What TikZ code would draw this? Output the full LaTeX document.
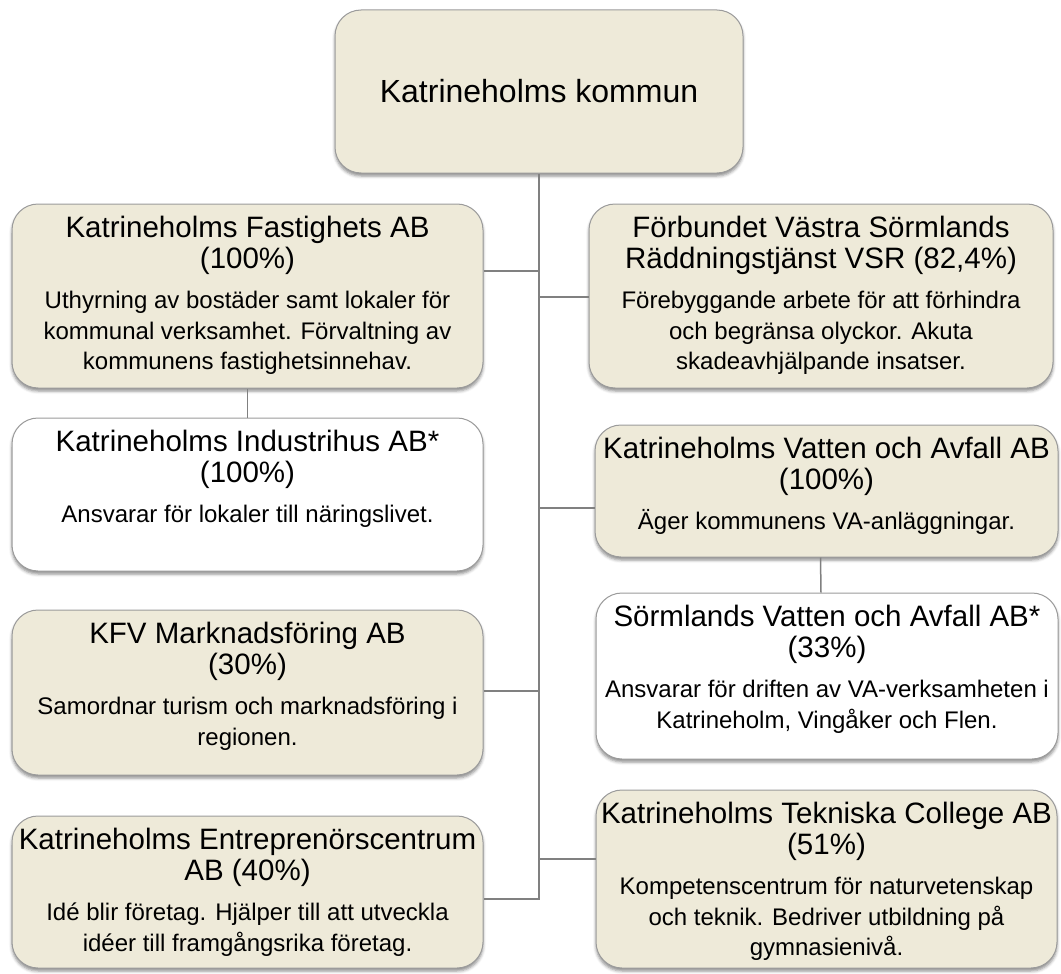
\documentclass[tikz,border=0pt]{standalone}
\usepackage{fontspec}
\setmainfont{Liberation Sans}
\usepackage{tikz}
\usetikzlibrary{shadows.blur}
\definecolor{sand}{HTML}{EEEAD9}
\definecolor{rim}{HTML}{9B9B9B}
\definecolor{wire}{HTML}{808080}
\newcommand{\ttl}{\fontsize{29.5}{31}\selectfont}
\newcommand{\bdy}{\fontsize{24}{30.5}\selectfont}
\newcommand{\topline}{\rule{0pt}{27pt}}

\begin{document}
\begin{tikzpicture}[x=1pt,y=-1pt]
\tikzstyle{unit}=[rectangle,rounded corners=26pt,draw=rim,line width=1pt,fill=sand,inner sep=0pt,
  blur shadow={shadow xshift=0pt,shadow yshift=-3pt,shadow blur radius=3pt,shadow opacity=45}]
\tikzstyle{blank}=[unit,fill=white]
\tikzstyle{info}=[anchor=north,align=center,inner xsep=0pt,inner ysep=7pt,font=\bdy]
\tikzstyle{link}=[draw=wire,line width=1.5pt]
\useasboundingbox (0,0) rectangle (1061,974);

\node[unit,minimum width=408pt,minimum height=163pt,font=\fontsize{32}{36}\selectfont] (kommun) at (539,91.5) {Katrineholms kommun};

\node[unit,minimum width=471pt,minimum height=184pt] (fast) at (247.5,296) {};
\node[info] (fast-t) at (fast.north) {\ttl\topline Katrineholms Fastighets AB\\\ttl (100\%)\\[10pt]Uthyrning av bostäder samt lokaler för\\kommunal verksamhet. Förvaltning av\\kommunens fastighetsinnehav.};

\node[blank,minimum width=471pt,minimum height=153pt] (indu) at (247.5,494.5) {};
\node[info] (indu-t) at (indu.north) {\ttl\topline Katrineholms Industrihus AB*\\\ttl (100\%)\\[10pt]Ansvarar för lokaler till näringslivet.};

\node[unit,minimum width=471pt,minimum height=165pt] (kfv) at (247.5,692.5) {};
\node[info] (kfv-t) at (kfv.north) {\ttl\topline KFV Marknadsföring AB\\\ttl (30\%)\\[10pt]Samordnar turism och marknadsföring i\\regionen.};

\node[unit,minimum width=471pt,minimum height=152pt] (entr) at (247.5,892) {};
\node[info] (entr-t) at (entr.north) {\ttl\topline Katrineholms Entreprenörscentrum\\\ttl AB (40\%)\\[10pt]Idé blir företag. Hjälper till att utveckla\\idéer till framgångsrika företag.};

\node[unit,minimum width=464pt,minimum height=184pt] (vsr) at (821,296) {};
\node[info] (vsr-t) at (vsr.north) {\ttl\topline Förbundet Västra Sörmlands\\\ttl Räddningstjänst VSR (82,4\%)\\[10pt]Förebyggande arbete för att förhindra\\och begränsa olyckor. Akuta\\skadeavhjälpande insatser.};

\node[unit,minimum width=463pt,minimum height=132pt] (vaab) at (826.5,491) {};
\node[info] (vaab-t) at (vaab.north) {\ttl\topline Katrineholms Vatten och Avfall AB\\\ttl (100\%)\\[10pt]Äger kommunens VA-anläggningar.};

\node[blank,minimum width=462pt,minimum height=166pt] (sva) at (827,676) {};
\node[info] (sva-t) at (sva.north) {\ttl\topline Sörmlands Vatten och Avfall AB*\\\ttl (33\%)\\[10pt]Ansvarar för driften av VA-verksamheten i\\Katrineholm, Vingåker och Flen.};

\node[unit,minimum width=461pt,minimum height=178pt] (tekn) at (826.5,879) {};
\node[info] (tekn-t) at (tekn.north) {\ttl\topline Katrineholms Tekniska College AB\\\ttl (51\%)\\[10pt]Kompetenscentrum för naturvetenskap\\och teknik. Bedriver utbildning på\\gymnasienivå.};

\coordinate (j-fast) at (539,271);
\coordinate (j-vsr) at (539,297);
\coordinate (j-vaab) at (539,508);
\coordinate (j-kfv) at (539,691);
\coordinate (j-tekn) at (539,859);
\coordinate (j-entr) at (539,899);

\draw[link] (kommun.south) |- (entr.east |- j-entr);
\draw[link] (fast.east |- j-fast) -- (j-fast);
\draw[link] (j-vsr) -- (vsr.west |- j-vsr);
\draw[link] (j-vaab) -- (vaab.west |- j-vaab);
\draw[link] (kfv.east |- j-kfv) -- (j-kfv);
\draw[link] (j-tekn) -- (tekn.west |- j-tekn);
\draw[link] (fast.south) -- (indu.north);
\draw[link] ([xshift=-6pt]vaab.south) -- ([xshift=-6pt]sva.north);
\end{tikzpicture}
\end{document}
